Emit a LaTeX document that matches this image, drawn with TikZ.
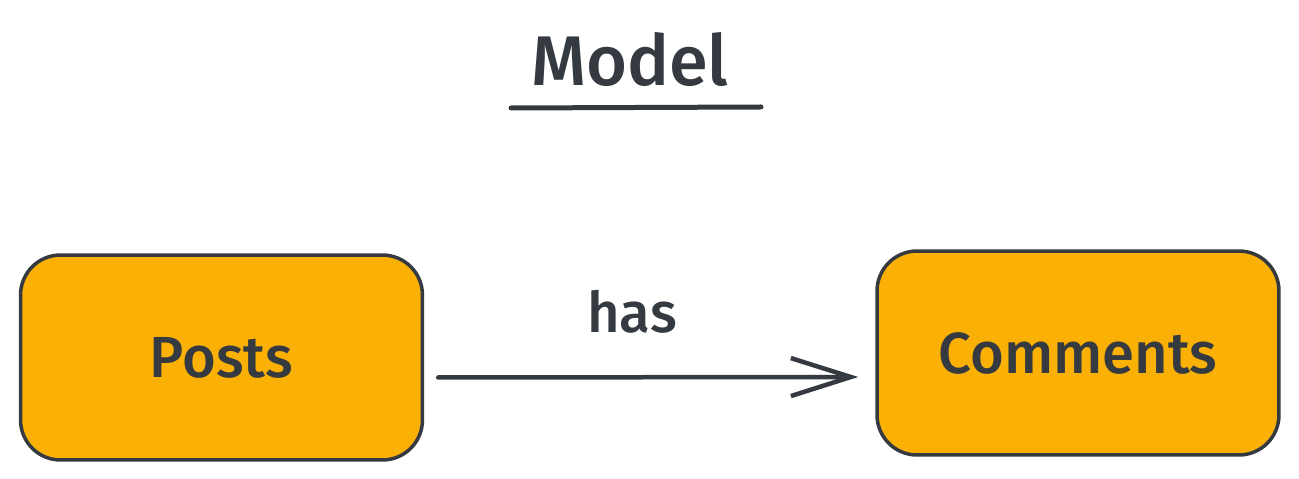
\documentclass[tikz,border=0pt]{standalone}
\usepackage{fontspec}
\setmainfont{Fira Sans}[UprightFont=* Medium]
\usetikzlibrary{arrows.meta}
\definecolor{inkgray}{HTML}{343A40}
\definecolor{boxyellow}{HTML}{FAB005}
\tikzset{
  entity/.style={draw=inkgray, fill=boxyellow, line width=2pt, rounded corners=0.8cm,
    minimum width=8.04cm, minimum height=4.1cm, text=inkgray, font=\fontsize{33}{39}\selectfont},
  label text/.style={text=inkgray, inner sep=0pt},
}

\begin{document}
\begin{tikzpicture}[x=0.02cm, y=-0.02cm]
		\useasboundingbox (0,0) rectangle (1299,479);
		
		\node [entity] (posts) at (221.5,357.5) {Posts};
		\node [entity, minimum height=4.08cm] (comments) at (1078,353) {Comments};
		
		\node [label text, anchor=base, font=\fontsize{40}{48}\selectfont] (title) at (630,86) {Model};
		\draw [inkgray, line width=0.1cm, line cap=round] (511,108) -- (761,107);
		
		\draw [inkgray, line width=0.09cm, line cap=round, -{Straight Barb[length=1.2cm, width=0.76cm, line width=0.09cm]}]
			([xshift=0.28cm, yshift=-0.4cm]posts.east) -- ([xshift=-0.34cm, yshift=-0.48cm]comments.west);
		\node [label text, anchor=base, font=\fontsize{32}{38}\selectfont] (has) at (632,333) {has};
\end{tikzpicture}
\end{document}
